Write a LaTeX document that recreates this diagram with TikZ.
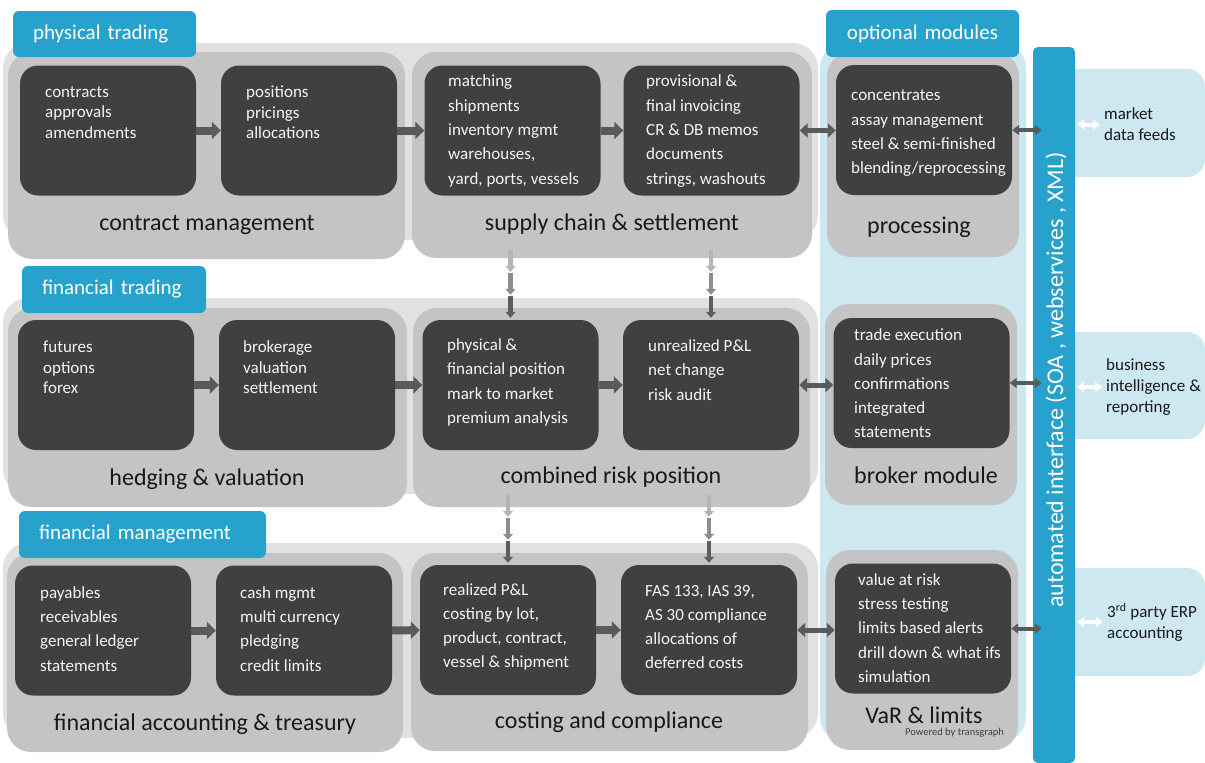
\documentclass[tikz,border=0pt]{standalone}
\usepackage{fontspec}
\setmainfont{Carlito}
\usetikzlibrary{arrows.meta, calc}

\definecolor{tabblue}{HTML}{27A2CC}
\definecolor{paleblue}{HTML}{CDE8F1}
\definecolor{panelgrey}{HTML}{E1E1E1}
\definecolor{modgrey}{HTML}{C4C4C4}
\definecolor{boxgrey}{HTML}{404040}
\definecolor{arrowgrey}{HTML}{5A5A5A}
\definecolor{dropA}{HTML}{B4B4B4}
\definecolor{dropB}{HTML}{8D8D8D}
\definecolor{dropC}{HTML}{5D5D5D}

\begin{document}
\begin{tikzpicture}[x=1pt, y=-1pt,
    size/.style 2 args={minimum width=#1pt, minimum height=#2pt},
    panel/.style={fill=panelgrey, rounded corners=25pt, inner sep=0pt},
    band/.style={fill=paleblue, rounded corners=25pt, inner sep=0pt},
    module/.style={fill=modgrey, rounded corners=24pt, inner sep=0pt},
    darkbox/.style={fill=boxgrey, rounded corners=18pt, inner sep=0pt, size={176}{130}},
    tab/.style={fill=tabblue, rounded corners=6pt, inner sep=0pt, text=white,
        font=\fontsize{21}{24}\selectfont},
    items/.style={text=white!96!black, align=left, inner sep=0pt, anchor=west,
        font=\fontsize{17}{24.3}\selectfont},
    tight/.style={font=\fontsize{17}{20.5}\selectfont},
    title/.style={text=black!90, anchor=base, inner sep=0pt,
        font=\fontsize{24}{28}\selectfont},
    ext/.style={fill=paleblue, rounded corners=18pt, inner sep=0pt},
    extT/.style={text=black!90, align=left, inner sep=0pt, anchor=west,
        font=\fontsize{17}{21}\selectfont},
    flow/.style={draw=arrowgrey, line width=8pt, -{Triangle[length=9pt, width=17pt]}},
    link/.style={draw=arrowgrey, line width=5pt, {Triangle[length=8pt, width=14pt]}-{Triangle[length=8pt, width=14pt]}},
    plug/.style={draw=arrowgrey, line width=4pt, {Triangle[length=7pt, width=10pt]}-{Triangle[length=7pt, width=10pt]}},
    wplug/.style={draw=white, line width=4pt, {Triangle[length=7pt, width=10pt]}-{Triangle[length=7pt, width=10pt]}},
    drop/.style={line width=4.5pt, -{Triangle[length=6pt, width=10pt]}}
  ]
  \useasboundingbox (0,0) rectangle (1205,763);

  % background panels
  \node[panel, size={815}{197}] (row1) at (410.5,141.5) {};
  \node[panel, size={815}{196}] (row2) at (410.5,396) {};
  \node[panel, size={815}{195}] (row3) at (410.5,640.5) {};
  \node[band, size={206}{699}] (opt) at (923,392.5) {};

  % modules
  \node[module, size={397}{207}] (cm) at (206.5,155.5) {};
  \node[module, size={400}{206}] (sc) at (612,155) {};
  \node[module, size={192}{205}] (proc) at (923,154.5) {};
  \node[module, size={399}{199}] (hv) at (207.5,407.5) {};
  \node[module, size={397}{199}] (cr) at (611.5,407.5) {};
  \node[module, size={192}{201}] (brk) at (921,404.5) {};
  \node[module, size={396}{199}] (fa) at (205,652.5) {};
  \node[module, size={397}{198}] (cc) at (609.5,652) {};
  \node[module, size={192}{200}] (vr) at (922,650) {};

  % tabs
  \node[tab, size={183}{46}, text width=143pt, align=left] (tphys) at (104.5,34) {physical trading};
  \node[tab, size={193}{47}, text width=173pt, align=center] (topt) at (922.5,33.5) {optional modules};
  \node[tab, size={184}{47}, text width=144pt, align=left] (tfin) at (114,289.5) {financial trading};
  \node[tab, size={247}{47}, text width=207pt, align=left] (tmgmt) at (142.5,534.5) {financial management};

  % module titles
  \node[title] (cmT) at (207,230) {contract management};
  \node[title] (scT) at (612,230) {supply chain \& settlement};
  \node[title] (procT) at (919,233) {processing};
  \node[title] (hvT) at (207,485) {hedging \& valuation};
  \node[title] (crT) at (611,483) {combined risk position};
  \node[title] (brkT) at (926,483) {broker module};
  \node[title] (faT) at (205,730) {financial accounting \& treasury};
  \node[title] (ccT) at (609,728) {costing and compliance};
  \node[title] (vrT) at (924,723) {VaR \& limits};
  \node[anchor=base east, inner sep=0pt, text=black!75,
    font=\fontsize{10.5}{12}\selectfont] (pwr) at (1004,735) {Powered by transgraph};

  % dark boxes
  \node[darkbox] (cm1) at (108,130.5) {};
  \node[darkbox] (cm2) at (309,130.5) {};
  \node[darkbox] (sc1) at (512.5,130.5) {};
  \node[darkbox] (sc2) at (711.5,130.5) {};
  \node[darkbox] (pr) at (924,130) {};
  \node[darkbox] (hv1) at (106,385) {};
  \node[darkbox] (hv2) at (307,385) {};
  \node[darkbox] (cr1) at (510.5,385) {};
  \node[darkbox] (cr2) at (711,385) {};
  \node[darkbox] (bm) at (921.5,383) {};
  \node[darkbox] (fa1) at (103,630.5) {};
  \node[darkbox] (fa2) at (304,630.5) {};
  \node[darkbox] (cc1) at (508,630) {};
  \node[darkbox] (cc2) at (709,630) {};
  \node[darkbox] (var) at (923,628.5) {};

  % box texts
  \node[items, tight] (cm1t) at (45,112.5) {contracts\\approvals\\amendments};
  \node[items, tight] (cm2t) at (246,112.5) {positions\\pricings\\allocations};
  \node[items] (sc1t) at (448,131) {matching\\shipments\\inventory mgmt\\warehouses,\\yard, ports, vessels};
  \node[items] (sc2t) at (646,131) {provisional \&\\final invoicing\\CR \& DB memos\\documents\\strings, washouts};
  \node[items] (prt) at (851,133.5) {concentrates\\assay management\\steel \& semi-finished\\blending/reprocessing};
  \node[items, tight] (hv1t) at (43,367.5) {futures\\options\\forex};
  \node[items, tight] (hv2t) at (243,367.5) {brokerage\\valuation\\settlement};
  \node[items] (cr1t) at (447,382.5) {physical \&\\financial position\\mark to market\\premium analysis};
  \node[items] (cr2t) at (648,370) {unrealized P\&L\\net change\\risk audit};
  \node[items] (bmt) at (854,383.5) {trade execution\\daily prices\\confirmations\\integrated\\statements};
  \node[items] (fa1t) at (40,629) {payables\\receivables\\general ledger\\statements};
  \node[items] (fa2t) at (240,629) {cash mgmt\\multi currency\\pledging\\credit limits};
  \node[items] (cc1t) at (443,627) {realized P\&L\\costing by lot,\\product, contract,\\vessel \& shipment};
  \node[items] (cc2t) at (645,627) {FAS 133, IAS 39,\\AS 30 compliance\\allocations of\\deferred costs};
  \node[items] (vart) at (858,628) {value at risk\\stress testing\\limits based alerts\\drill down \& what ifs\\simulation};

  % flow inside rows
  \draw[flow] (cm1) -- (cm2);
  \draw[flow] (cm2) -- (sc1);
  \draw[flow] (sc1) -- (sc2);
  \draw[flow] (hv1) -- (hv2);
  \draw[flow] (hv2) -- (cr1);
  \draw[flow] (cr1) -- (cr2);
  \draw[flow] (fa1) -- (fa2);
  \draw[flow] (fa2) -- (cc1);
  \draw[flow] (cc1) -- (cc2);

  % flow between rows
  \foreach \b in {cr1, cr2, cc1, cc2} {
    \draw[drop, draw=dropA] ($(\b.north)+(0,-70)$) -- ++(0,22);
    \draw[drop, draw=dropB] ($(\b.north)+(0,-47)$) -- ++(0,22);
    \draw[drop, draw=dropC, shorten >=2pt] ($(\b.north)+(0,-24)$) -- (\b.north);
  }

  % optional modules
  \draw[link] (sc2) -- (sc2 -| pr.west);
  \draw[link] (cr2) -- (cr2 -| bm.west);
  \draw[link] (cc2) -- (cc2 -| var.west);

  % external systems
  \node[ext, size={145}{108}] (mktbox) at (1132.5,123) {};
  \node[ext, size={145}{107}] (bibox) at (1132.5,385.5) {};
  \node[ext, size={145}{108}] (erpbox) at (1132.5,622) {};
  \node[extT] (mkt) at (1104,124.5) {market\\data feeds};
  \node[extT] (bi) at (1106,387) {business\\intelligence \&\\reporting};
  \node[extT] (erp) at (1107,622) {3\textsuperscript{rd} party ERP\\accounting};

  % interface bar
  \node[fill=tabblue, rounded corners=5pt, inner sep=0pt, size={42}{716}] (bar) at (1054,405) {};
  \node[rotate=90, text=white, inner sep=0pt, font=\fontsize{24}{28}\selectfont] (barT) at (1056,380)
    {automated interface (SOA , webservices , XML)};

  \draw[plug] (pr) -- ($(pr -| bar.west)+(9,0)$);
  \draw[plug] (bm) -- ($(bm -| bar.west)+(9,0)$);
  \draw[plug] (var) -- ($(var -| bar.west)+(9,0)$);
  \draw[wplug, shorten <=2pt, shorten >=4pt] (bar.east |- mkt.west) -- (mkt.west);
  \draw[wplug, shorten <=2pt, shorten >=4pt] (bar.east |- bi.west) -- (bi.west);
  \draw[wplug, shorten <=2pt, shorten >=4pt] (bar.east |- erp.west) -- (erp.west);
\end{tikzpicture}
\end{document}
